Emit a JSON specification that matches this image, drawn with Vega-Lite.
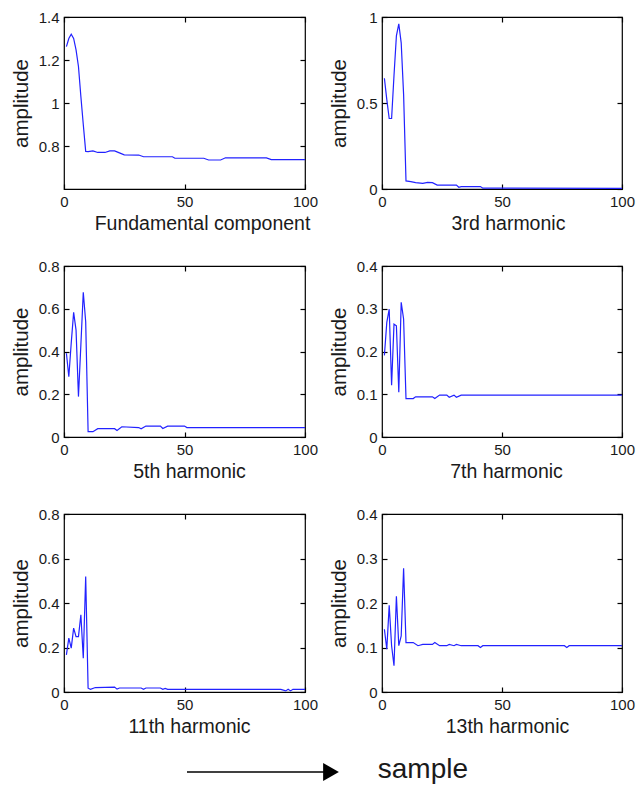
{
  "$schema": "https://vega.github.io/schema/vega-lite/v6.json",
  "padding": {"left": 10, "top": 9, "right": 0, "bottom": 0},
  "background": "white",
  "datasets": {
    "p1": [
      {"s":1,"a":1.262},{"s":2,"a":1.30},{"s":3,"a":1.32},{"s":4,"a":1.30},{"s":5,"a":1.247},{"s":6,"a":1.17},{"s":7,"a":1.03},{"s":8,"a":0.90},{"s":9,"a":0.775},{"s":10,"a":0.774},{"s":12,"a":0.777},{"s":14,"a":0.770},{"s":17,"a":0.770},{"s":19,"a":0.777},{"s":21,"a":0.777},{"s":23,"a":0.768},{"s":25,"a":0.759},{"s":31,"a":0.758},{"s":33,"a":0.750},{"s":45,"a":0.750},{"s":46,"a":0.743},{"s":58,"a":0.743},{"s":60,"a":0.735},{"s":65,"a":0.735},{"s":67,"a":0.745},{"s":84,"a":0.745},{"s":86,"a":0.737},{"s":100,"a":0.737}
    ],
    "p2": [
      {"s":1,"a":0.644},{"s":2,"a":0.52},{"s":3,"a":0.41},{"s":4,"a":0.41},{"s":5,"a":0.66},{"s":6,"a":0.89},{"s":7,"a":0.96},{"s":8,"a":0.85},{"s":9,"a":0.55},{"s":10,"a":0.047},{"s":12,"a":0.043},{"s":14,"a":0.037},{"s":17,"a":0.033},{"s":19,"a":0.039},{"s":21,"a":0.037},{"s":23,"a":0.023},{"s":31,"a":0.023},{"s":32,"a":0.010},{"s":33,"a":0.014},{"s":41,"a":0.014},{"s":42,"a":0.005},{"s":100,"a":0.004}
    ],
    "p3": [
      {"s":1,"a":0.392},{"s":2,"a":0.282},{"s":3,"a":0.44},{"s":4,"a":0.583},{"s":5,"a":0.50},{"s":6,"a":0.189},{"s":7,"a":0.43},{"s":8,"a":0.677},{"s":9,"a":0.539},{"s":10,"a":0.025},{"s":12,"a":0.025},{"s":14,"a":0.039},{"s":21,"a":0.039},{"s":22,"a":0.030},{"s":24,"a":0.048},{"s":31,"a":0.044},{"s":32,"a":0.038},{"s":34,"a":0.051},{"s":40,"a":0.051},{"s":41,"a":0.040},{"s":43,"a":0.051},{"s":50,"a":0.051},{"s":51,"a":0.044},{"s":100,"a":0.044}
    ],
    "p4": [
      {"s":1,"a":0.191},{"s":2,"a":0.268},{"s":3,"a":0.299},{"s":4,"a":0.121},{"s":5,"a":0.264},{"s":6,"a":0.26},{"s":7,"a":0.105},{"s":8,"a":0.315},{"s":9,"a":0.276},{"s":10,"a":0.090},{"s":13,"a":0.090},{"s":14,"a":0.094},{"s":21,"a":0.094},{"s":22,"a":0.090},{"s":24,"a":0.098},{"s":27,"a":0.098},{"s":28,"a":0.093},{"s":30,"a":0.098},{"s":31,"a":0.093},{"s":33,"a":0.098},{"s":100,"a":0.098}
    ],
    "p5": [
      {"s":1,"a":0.167},{"s":2,"a":0.242},{"s":3,"a":0.197},{"s":4,"a":0.287},{"s":5,"a":0.249},{"s":6,"a":0.249},{"s":7,"a":0.347},{"s":8,"a":0.152},{"s":9,"a":0.519},{"s":10,"a":0.017},{"s":11,"a":0.012},{"s":13,"a":0.020},{"s":21,"a":0.022},{"s":22,"a":0.013},{"s":23,"a":0.018},{"s":32,"a":0.018},{"s":33,"a":0.012},{"s":34,"a":0.018},{"s":40,"a":0.018},{"s":41,"a":0.012},{"s":42,"a":0.016},{"s":43,"a":0.012},{"s":90,"a":0.012},{"s":92,"a":0.005},{"s":93,"a":0.012},{"s":94,"a":0.005},{"s":95,"a":0.012},{"s":100,"a":0.012}
    ],
    "p6": [
      {"s":1,"a":0.141},{"s":2,"a":0.096},{"s":3,"a":0.195},{"s":4,"a":0.104},{"s":5,"a":0.059},{"s":6,"a":0.215},{"s":7,"a":0.104},{"s":8,"a":0.126},{"s":9,"a":0.278},{"s":10,"a":0.111},{"s":13,"a":0.111},{"s":15,"a":0.104},{"s":17,"a":0.107},{"s":21,"a":0.107},{"s":22,"a":0.111},{"s":24,"a":0.104},{"s":27,"a":0.104},{"s":28,"a":0.107},{"s":30,"a":0.104},{"s":31,"a":0.107},{"s":33,"a":0.104},{"s":40,"a":0.104},{"s":41,"a":0.100},{"s":42,"a":0.104},{"s":76,"a":0.104},{"s":77,"a":0.100},{"s":78,"a":0.104},{"s":100,"a":0.104}
    ],
    "arrow": [
      {"x0":20.5,"x1":44.5,"y":0.306,"tx":52.3,"ty":0.139,"label":"sample"}
    ]
  },
  "vconcat": [
    {
      "columns": 2,
      "spacing": 77,
      "bounds": "flush",
      "concat": [
        {
          "width": 241, "height": 172, "data": {"name": "p1"},
          "layer": [
            {"mark": {"type": "line", "color": "#2222ff", "strokeWidth": 1.2, "clip": true},
             "encoding": {
               "x": {"field": "s", "type": "quantitative", "scale": {"domain": [0, 100]}, "axis": {"title": "Fundamental component", "titleX": 138, "values": [0, 50, 100], "format": "~f"}},
               "y": {"field": "a", "type": "quantitative", "scale": {"domain": [0.6, 1.4]}, "axis": {"title": "amplitude", "values": [0.8, 1, 1.2, 1.4], "format": "~f"}}}},
            {"mark": {"type": "line", "opacity": 0},
             "encoding": {
               "x": {"field": "s", "type": "quantitative", "axis": {"orient": "top", "labels": false, "title": null, "values": [0, 50, 100]}},
               "y": {"field": "a", "type": "quantitative", "axis": {"orient": "right", "labels": false, "title": null, "values": [0.8, 1, 1.2, 1.4]}}}}
          ],
          "resolve": {"axis": {"x": "independent", "y": "independent"}}
        },
        {
          "width": 240, "height": 172, "data": {"name": "p2"},
          "layer": [
            {"mark": {"type": "line", "color": "#2222ff", "strokeWidth": 1.2, "clip": true},
             "encoding": {
               "x": {"field": "s", "type": "quantitative", "scale": {"domain": [0, 100]}, "axis": {"title": "3rd harmonic", "titleX": 126, "values": [0, 50, 100], "format": "~f"}},
               "y": {"field": "a", "type": "quantitative", "scale": {"domain": [0, 1]}, "axis": {"title": "amplitude", "values": [0, 0.5, 1], "format": "~f"}}}},
            {"mark": {"type": "line", "opacity": 0},
             "encoding": {
               "x": {"field": "s", "type": "quantitative", "axis": {"orient": "top", "labels": false, "title": null, "values": [0, 50, 100]}},
               "y": {"field": "a", "type": "quantitative", "axis": {"orient": "right", "labels": false, "title": null, "values": [0, 0.5, 1]}}}}
          ],
          "resolve": {"axis": {"x": "independent", "y": "independent"}}
        },
        {
          "width": 241, "height": 171, "data": {"name": "p3"},
          "layer": [
            {"mark": {"type": "line", "color": "#2222ff", "strokeWidth": 1.2, "clip": true},
             "encoding": {
               "x": {"field": "s", "type": "quantitative", "scale": {"domain": [0, 100]}, "axis": {"title": "5th harmonic", "titleX": 125, "values": [0, 50, 100], "format": "~f"}},
               "y": {"field": "a", "type": "quantitative", "scale": {"domain": [0, 0.8]}, "axis": {"title": "amplitude", "values": [0, 0.2, 0.4, 0.6, 0.8], "format": "~f"}}}},
            {"mark": {"type": "line", "opacity": 0},
             "encoding": {
               "x": {"field": "s", "type": "quantitative", "axis": {"orient": "top", "labels": false, "title": null, "values": [0, 50, 100]}},
               "y": {"field": "a", "type": "quantitative", "axis": {"orient": "right", "labels": false, "title": null, "values": [0, 0.2, 0.4, 0.6, 0.8]}}}}
          ],
          "resolve": {"axis": {"x": "independent", "y": "independent"}}
        },
        {
          "width": 240, "height": 171, "data": {"name": "p4"},
          "layer": [
            {"mark": {"type": "line", "color": "#2222ff", "strokeWidth": 1.2, "clip": true},
             "encoding": {
               "x": {"field": "s", "type": "quantitative", "scale": {"domain": [0, 100]}, "axis": {"title": "7th harmonic", "titleX": 124, "values": [0, 50, 100], "format": "~f"}},
               "y": {"field": "a", "type": "quantitative", "scale": {"domain": [0, 0.4]}, "axis": {"title": "amplitude", "values": [0, 0.1, 0.2, 0.3, 0.4], "format": "~f"}}}},
            {"mark": {"type": "line", "opacity": 0},
             "encoding": {
               "x": {"field": "s", "type": "quantitative", "axis": {"orient": "top", "labels": false, "title": null, "values": [0, 50, 100]}},
               "y": {"field": "a", "type": "quantitative", "axis": {"orient": "right", "labels": false, "title": null, "values": [0, 0.1, 0.2, 0.3, 0.4]}}}}
          ],
          "resolve": {"axis": {"x": "independent", "y": "independent"}}
        },
        {
          "width": 241, "height": 178, "data": {"name": "p5"},
          "layer": [
            {"mark": {"type": "line", "color": "#2222ff", "strokeWidth": 1.2, "clip": true},
             "encoding": {
               "x": {"field": "s", "type": "quantitative", "scale": {"domain": [0, 100]}, "axis": {"title": "11th harmonic", "titleX": 125, "values": [0, 50, 100], "format": "~f"}},
               "y": {"field": "a", "type": "quantitative", "scale": {"domain": [0, 0.8]}, "axis": {"title": "amplitude", "values": [0, 0.2, 0.4, 0.6, 0.8], "format": "~f"}}}},
            {"mark": {"type": "line", "opacity": 0},
             "encoding": {
               "x": {"field": "s", "type": "quantitative", "axis": {"orient": "top", "labels": false, "title": null, "values": [0, 50, 100]}},
               "y": {"field": "a", "type": "quantitative", "axis": {"orient": "right", "labels": false, "title": null, "values": [0, 0.2, 0.4, 0.6, 0.8]}}}}
          ],
          "resolve": {"axis": {"x": "independent", "y": "independent"}}
        },
        {
          "width": 240, "height": 178, "data": {"name": "p6"},
          "layer": [
            {"mark": {"type": "line", "color": "#2222ff", "strokeWidth": 1.2, "clip": true},
             "encoding": {
               "x": {"field": "s", "type": "quantitative", "scale": {"domain": [0, 100]}, "axis": {"title": "13th harmonic", "titleX": 125, "values": [0, 50, 100], "format": "~f"}},
               "y": {"field": "a", "type": "quantitative", "scale": {"domain": [0, 0.4]}, "axis": {"title": "amplitude", "values": [0, 0.1, 0.2, 0.3, 0.4], "format": "~f"}}}},
            {"mark": {"type": "line", "opacity": 0},
             "encoding": {
               "x": {"field": "s", "type": "quantitative", "axis": {"orient": "top", "labels": false, "title": null, "values": [0, 50, 100]}},
               "y": {"field": "a", "type": "quantitative", "axis": {"orient": "right", "labels": false, "title": null, "values": [0, 0.1, 0.2, 0.3, 0.4]}}}}
          ],
          "resolve": {"axis": {"x": "independent", "y": "independent"}}
        }
      ]
    },
    {
      "width": 600, "height": 36, "data": {"name": "arrow"},
      "view": {"stroke": null},
      "layer": [
        {"mark": {"type": "rule", "color": "#000", "strokeWidth": 1.6},
         "encoding": {
           "x": {"field": "x0", "type": "quantitative", "scale": {"domain": [0, 100]}, "axis": null},
           "x2": {"field": "x1"},
           "y": {"field": "y", "type": "quantitative", "scale": {"domain": [0, 1]}, "axis": null}}},
        {"mark": {"type": "point", "shape": "triangle-right", "filled": true, "color": "#000", "size": 330, "opacity": 1},
         "encoding": {
           "x": {"field": "x1", "type": "quantitative"},
           "y": {"field": "y", "type": "quantitative"}}},
        {"mark": {"type": "text", "align": "left", "baseline": "alphabetic", "fontSize": 28, "color": "#1a1a1a"},
         "encoding": {
           "x": {"field": "tx", "type": "quantitative"},
           "y": {"field": "ty", "type": "quantitative"},
           "text": {"field": "label"}}}
      ]
    }
  ],
  "spacing": 10,
  "config": {
    "font": "Liberation Sans",
    "view": {"stroke": "#000", "strokeWidth": 1.2},
    "axis": {
      "domain": false, "grid": false, "tickSize": -5, "tickColor": "#000", "tickWidth": 1.2,
      "labelPadding": 10, "labelFontSize": 15, "labelColor": "#1a1a1a", "labelOverlap": false, "labelFlush": false,
      "titleFontWeight": "normal", "titleColor": "#1a1a1a"
    },
    "axisX": {"titleFontSize": 19.5, "titlePadding": 5},
    "axisY": {"titleFontSize": 20.5, "titlePadding": 7}
  }
}
